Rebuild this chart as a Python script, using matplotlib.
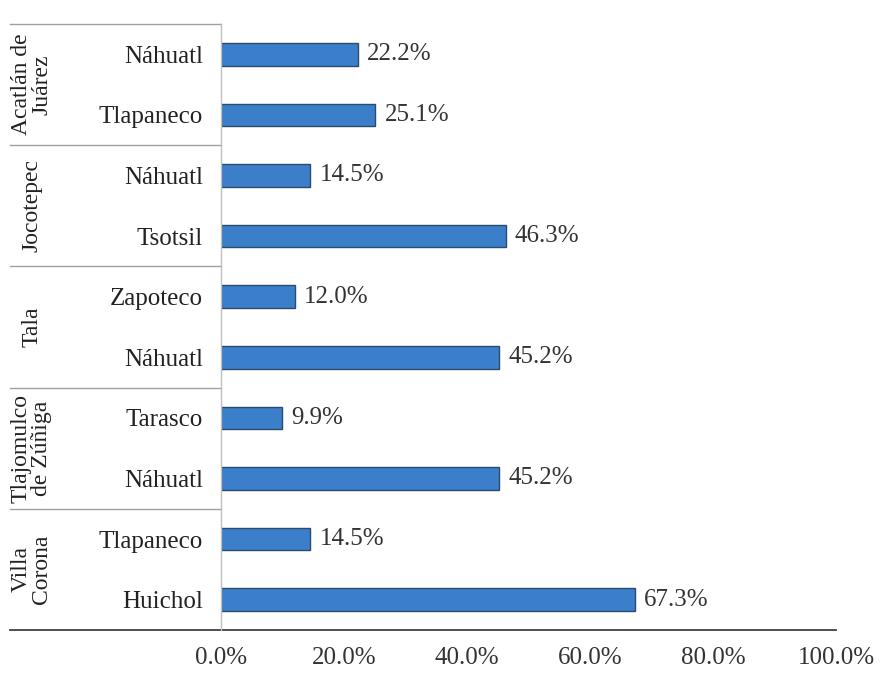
import numpy as np
import matplotlib.pyplot as plt
import matplotlib.transforms as mtransforms

plt.rcParams['font.family'] = ['Liberation Serif', 'DejaVu Serif']

# municipalities (top to bottom) and the two languages listed under each
groups = ['Acatlán de\nJuárez', 'Jocotepec', 'Tala', 'Tlajomulco\nde Zúñiga', 'Villa\nCorona']
languages = ['Náhuatl', 'Tlapaneco',
             'Náhuatl', 'Tsotsil',
             'Zapoteco', 'Náhuatl',
             'Tarasco', 'Náhuatl',
             'Tlapaneco', 'Huichol']
percent = [22.2, 25.1,
           14.5, 46.3,
           12.0, 45.2,
           9.9, 45.2,
           14.5, 67.3]
xticks = [0, 20, 40, 60, 80, 100]

fs = 18

fig = plt.figure(figsize=(8.9, 6.74), dpi=100)
ax = fig.add_axes([0.2483, 0.0653, 0.691, 0.8991])

y = np.arange(len(languages))
ax.barh(y, percent, height=0.37, color='#3b7fcb', edgecolor='#2c4a6e', linewidth=1.0)

for yi, v in zip(y, percent):
    ax.text(v + 1.5, yi, '%.1f%%' % v, va='center', ha='left', fontsize=fs, color='#333333')

ax.set_xlim(0, 100)
ax.set_ylim(len(languages) - 0.5, -0.5)
ax.set_xticks(xticks)
ax.set_xticklabels(['%.1f%%' % t for t in xticks], fontsize=fs, color='#333333')
ax.set_yticks(y)
ax.set_yticklabels(languages, fontsize=fs, color='#222222')
ax.tick_params(axis='both', length=0)
ax.tick_params(axis='x', pad=12)
ax.tick_params(axis='y', pad=13)

for s in ['top', 'right', 'bottom']:
    ax.spines[s].set_visible(False)
ax.spines['left'].set_color('#c0c0c0')
ax.spines['left'].set_linewidth(1.0)

# table-like lines on the left side, x in axes units, y in data units
trans = mtransforms.blended_transform_factory(ax.transAxes, ax.transData)
x_left = -0.343
for b in [-0.5, 1.5, 3.5, 5.5, 7.5]:
    ax.plot([x_left, 0], [b, b], transform=trans, color='#a0a0a0', lw=1.0, clip_on=False)
ax.plot([x_left, 1.0], [9.5, 9.5], transform=trans, color='#404040', lw=1.3, clip_on=False)

# rotated municipality names
for i, g in enumerate(groups):
    ax.text(-0.308, 2 * i + 0.5, g, transform=trans, rotation=90, ha='center', va='center',
            fontsize=17, color='#222222', linespacing=0.95)

fig.savefig('out.png', dpi=100)
